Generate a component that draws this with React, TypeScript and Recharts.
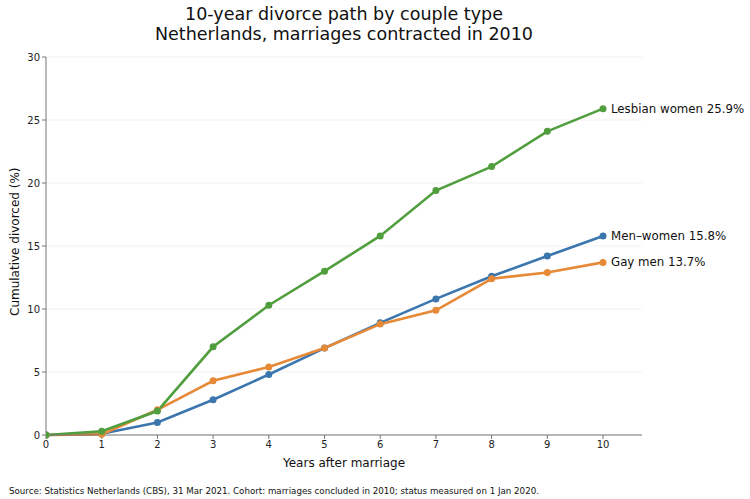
import { LineChart, Line, XAxis, YAxis, CartesianGrid, LabelList } from 'recharts';

const years = [0, 1, 2, 3, 4, 5, 6, 7, 8, 9, 10];
const menWomen = [0, 0.1, 1.0, 2.8, 4.8, 6.9, 8.9, 10.8, 12.6, 14.2, 15.8];
const gayMen = [0, 0.05, 2.0, 4.3, 5.4, 6.9, 8.8, 9.9, 12.4, 12.9, 13.7];
const lesbianWomen = [0, 0.3, 1.9, 7.0, 10.3, 13.0, 15.8, 19.4, 21.3, 24.1, 25.9];
const yTicks = [0, 5, 10, 15, 20, 25, 30];

const data = years.map((y, i) => ({
  year: y,
  mw: menWomen[i],
  gm: gayMen[i],
  lw: lesbianWomen[i],
}));

const FONT = '"DejaVu Sans", sans-serif';

const endLabel = (name: string, values: number[]) => (props: any) => {
  const { x, y, index } = props;
  if (index !== values.length - 1) return null;
  return (
    <text x={x + 8} y={y} dominantBaseline="central" fontSize={11.8} fill="#111" fontFamily={FONT}>
      {`${name} ${values[index].toFixed(1)}%`}
    </text>
  );
};

export default function App() {
  return (
    <div style={{ position: 'absolute', left: 0, top: 0, width: 750, height: 499, background: '#fff', fontFamily: FONT }}>
      <div style={{ position: 'absolute', left: 0, width: 688, top: 5, textAlign: 'center', fontSize: 17.5, lineHeight: '19.5px', color: '#111' }}>
        10-year divorce path by couple type
        <br />
        Netherlands, marriages contracted in 2010
      </div>
      <LineChart
        width={750}
        height={499}
        data={data}
        margin={{ top: 57, right: 108, bottom: 34, left: 10 }}
        style={{ overflow: 'visible' }}
      >
        <CartesianGrid horizontal vertical={false} stroke="#eeeeee" strokeWidth={0.8} />
        <XAxis
          dataKey="year"
          type="number"
          domain={[0, 10.7]}
          ticks={years}
          allowDataOverflow
          height={30}
          stroke="#777"
          tickSize={4}
          tick={{ fontSize: 10, fill: '#222', fontFamily: FONT }}
          label={{ value: 'Years after marriage', position: 'insideBottom', offset: -2, fontSize: 12, fill: '#111', fontFamily: FONT }}
        />
        <YAxis
          type="number"
          domain={[0, 30]}
          ticks={yTicks}
          width={36}
          stroke="#777"
          tickSize={4}
          tick={{ fontSize: 10, fill: '#222', fontFamily: FONT }}
          label={{ value: 'Cumulative divorced (%)', angle: -90, position: 'insideLeft', dx: 0, dy: 70, fontSize: 12, fill: '#111', fontFamily: FONT }}
        />
        <Line dataKey="mw" stroke="#3b76ae" strokeWidth={2.6} dot={{ r: 2.2, fill: '#3b76ae', stroke: '#3b76ae' }} isAnimationActive={false}>
          <LabelList dataKey="mw" content={endLabel('Men–women', menWomen)} />
        </Line>
        <Line dataKey="gm" stroke="#e68a38" strokeWidth={2.6} dot={{ r: 2.2, fill: '#e68a38', stroke: '#e68a38' }} isAnimationActive={false}>
          <LabelList dataKey="gm" content={endLabel('Gay men', gayMen)} />
        </Line>
        <Line dataKey="lw" stroke="#519e3e" strokeWidth={2.6} dot={{ r: 2.2, fill: '#519e3e', stroke: '#519e3e' }} isAnimationActive={false}>
          <LabelList dataKey="lw" content={endLabel('Lesbian women', lesbianWomen)} />
        </Line>
      </LineChart>
      <div style={{ position: 'absolute', left: 9, top: 486, fontSize: 8.7, color: '#111' }}>
        Source: Statistics Netherlands (CBS), 31 Mar 2021. Cohort: marriages concluded in 2010; status measured on 1 Jan 2020.
      </div>
    </div>
  );
}
